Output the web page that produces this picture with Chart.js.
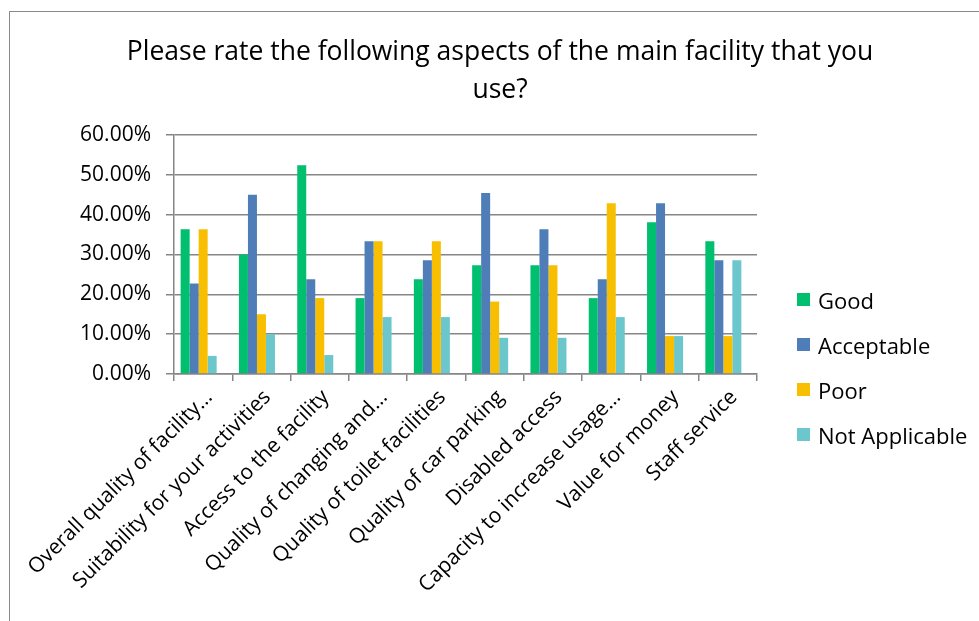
<!DOCTYPE html>
<html>
<head>
<meta charset="utf-8">
<script src="https://cdn.jsdelivr.net/npm/chart.js@4.4.1/dist/chart.umd.min.js"></script>
<style>
  body { margin: 0; background: #fff; }
  #wrap { position: relative; width: 979px; height: 621px; overflow: hidden; }
  #frame {
    position: absolute; left: 9px; top: 11px; width: 1000px; height: 700px;
    border-left: 1px solid #8a8a8a; border-top: 1px solid #8a8a8a;
  }
  canvas { position: absolute; left: 0; top: 0; }
  #title {
    position: absolute; left: 0; top: 31px; width: 1000px; text-align: center;
    font-family: "Open Sans", sans-serif; font-size: 26.5px; line-height: 38px; color: #000;
  }
  #legend {
    position: absolute; left: 797px; top: 277px;
    font-family: "Open Sans", sans-serif; font-size: 22px; color: #000;
  }
  .item { height: 45px; display: flex; align-items: center; }
  .swatch { width: 13px; height: 13px; margin-right: 8px; }
</style>
</head>
<body>
<div id="wrap">
  <div id="frame"></div>
  <canvas id="chart" width="979" height="621"></canvas>
  <div id="title">Please rate the following aspects of the main facility that you<br>use?</div>
  <div id="legend"></div>
</div>
<script>
const categories = [
  "Overall quality of facility…",
  "Suitability for your activities",
  "Access to the facility",
  "Quality of changing and…",
  "Quality of toilet facilities",
  "Quality of car parking",
  "Disabled access",
  "Capacity to increase usage…",
  "Value for money",
  "Staff service",
];

const seriesNames = ["Good", "Acceptable", "Poor", "Not Applicable"];
const seriesColors = ["#00bf6f", "#4f7db8", "#f8be00", "#6cc7cc"];

// percent values
const good = [36.36, 30.0, 52.38, 19.05, 23.81, 27.27, 27.27, 19.05, 38.1, 33.33];
const acceptable = [22.73, 45.0, 23.81, 33.33, 28.57, 45.45, 36.36, 23.81, 42.86, 28.57];
const poor = [36.36, 15.0, 19.05, 33.33, 33.33, 18.18, 27.27, 42.86, 9.52, 9.52];
const notApplicable = [4.55, 10.0, 4.76, 14.29, 14.29, 9.09, 9.09, 14.29, 9.52, 28.57];

const yTicks = [0, 10, 20, 30, 40, 50, 60];

const FONT = "'Open Sans', sans-serif";
const GRID = "#868686";

const seriesValues = [good, acceptable, poor, notApplicable];

const datasets = seriesNames.map((name, i) => ({
  label: name,
  data: seriesValues[i],
  backgroundColor: seriesColors[i],
  borderWidth: 0,
  categoryPercentage: 0.772,
  barPercentage: 1.0,
}));
// empty slot after the four bars, like the gap Excel leaves in each group
datasets.push({
  label: "",
  data: categories.map(() => null),
  categoryPercentage: 0.772,
  barPercentage: 1.0,
});

new Chart(document.getElementById("chart"), {
  type: "bar",
  data: { labels: categories, datasets },
  options: {
    responsive: false,
    animation: false,
    layout: { padding: { left: 0, right: 222, top: 135, bottom: 0 } },
    plugins: {
      legend: { display: false },
      tooltip: { enabled: false },
      title: { display: false },
    },
    scales: {
      x: {
        grid: {
          offset: true,
          drawOnChartArea: false,
          drawTicks: true,
          tickLength: 7,
          color: GRID,
          lineWidth: 1.5,
        },
        border: { color: GRID, width: 1.5 },
        ticks: {
          autoSkip: false,
          minRotation: 45,
          maxRotation: 45,
          color: "#000",
          padding: 4,
          labelOffset: 6,
          font: { family: FONT, size: 21 },
        },
        afterFit: (scale) => {
          scale.height = 247;
        },
      },
      y: {
        min: yTicks[0],
        max: yTicks[yTicks.length - 1],
        afterBuildTicks: (scale) => {
          scale.ticks = yTicks.map((v) => ({ value: v }));
        },
        ticks: {
          color: "#000",
          padding: 15,
          font: { family: FONT, size: 21 },
          callback: (v) => v.toFixed(2) + "%",
        },
        grid: { color: GRID, lineWidth: 1.5, tickLength: 8 },
        border: { color: GRID, width: 1.5 },
        afterFit: (scale) => {
          scale.width = 174;
        },
      },
    },
  },
});

// legend built from the series lists
let legend = document.getElementById("legend");
seriesNames.forEach((name, i) => {
  let item = document.createElement("div");
  item.className = "item";
  let swatch = document.createElement("div");
  swatch.className = "swatch";
  swatch.style.backgroundColor = seriesColors[i];
  let label = document.createElement("span");
  label.textContent = name;
  item.append(swatch, label);
  legend.appendChild(item);
});
</script>
</body>
</html>
